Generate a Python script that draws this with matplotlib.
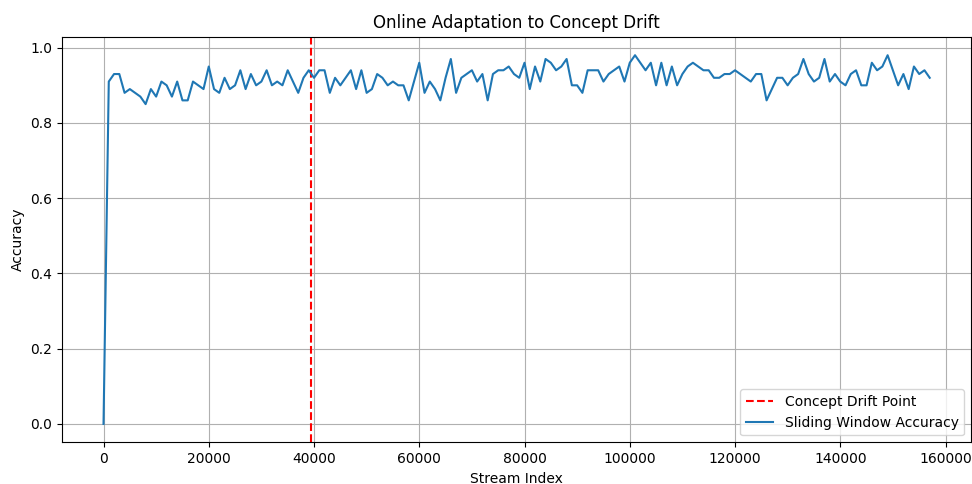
import matplotlib
matplotlib.use("Agg")
import matplotlib.pyplot as plt
import numpy as np

# accuracy of the sliding window, evaluated every 1000 stream samples
window_step = 1000
accuracy = [
    0.00, 0.91, 0.93, 0.93, 0.88, 0.89, 0.88, 0.87, 0.85, 0.89,
    0.87, 0.91, 0.90, 0.87, 0.91, 0.86, 0.86, 0.91, 0.90, 0.89,
    0.95, 0.89, 0.88, 0.92, 0.89, 0.90, 0.94, 0.89, 0.93, 0.90,
    0.91, 0.94, 0.90, 0.91, 0.90, 0.94, 0.91, 0.88, 0.92, 0.94,
    0.92, 0.94, 0.94, 0.88, 0.92, 0.90, 0.92, 0.94, 0.89, 0.94,
    0.88, 0.89, 0.93, 0.92, 0.90, 0.91, 0.90, 0.90, 0.86, 0.91,
    0.96, 0.88, 0.91, 0.89, 0.86, 0.92, 0.97, 0.88, 0.92, 0.93,
    0.94, 0.91, 0.93, 0.86, 0.93, 0.94, 0.94, 0.95, 0.93, 0.92,
    0.96, 0.89, 0.95, 0.91, 0.97, 0.96, 0.94, 0.95, 0.97, 0.90,
    0.90, 0.88, 0.94, 0.94, 0.94, 0.91, 0.93, 0.94, 0.95, 0.91,
    0.96, 0.98, 0.96, 0.94, 0.96, 0.90, 0.96, 0.90, 0.95, 0.90,
    0.93, 0.95, 0.96, 0.95, 0.94, 0.94, 0.92, 0.92, 0.93, 0.93,
    0.94, 0.93, 0.92, 0.91, 0.93, 0.93, 0.86, 0.89, 0.92, 0.92,
    0.90, 0.92, 0.93, 0.97, 0.93, 0.91, 0.92, 0.97, 0.91, 0.93,
    0.91, 0.90, 0.93, 0.94, 0.90, 0.90, 0.96, 0.94, 0.95, 0.98,
    0.94, 0.90, 0.93, 0.89, 0.95, 0.93, 0.94, 0.92,
]
drift_point = 39500

stream_index = np.arange(len(accuracy)) * window_step

fig, ax = plt.subplots(figsize=(9.72, 4.84), dpi=100)
fig.subplots_adjust(left=0.064, right=0.999, top=0.924, bottom=0.086)

ax.axvline(drift_point, color="red", linestyle="--", label="Concept Drift Point")
ax.plot(stream_index, accuracy, label="Sliding Window Accuracy")

ax.set_title("Online Adaptation to Concept Drift")
ax.set_xlabel("Stream Index")
ax.set_ylabel("Accuracy")
ax.grid(True)
ax.legend(loc="lower right")

fig.savefig("out.png", dpi=100)
